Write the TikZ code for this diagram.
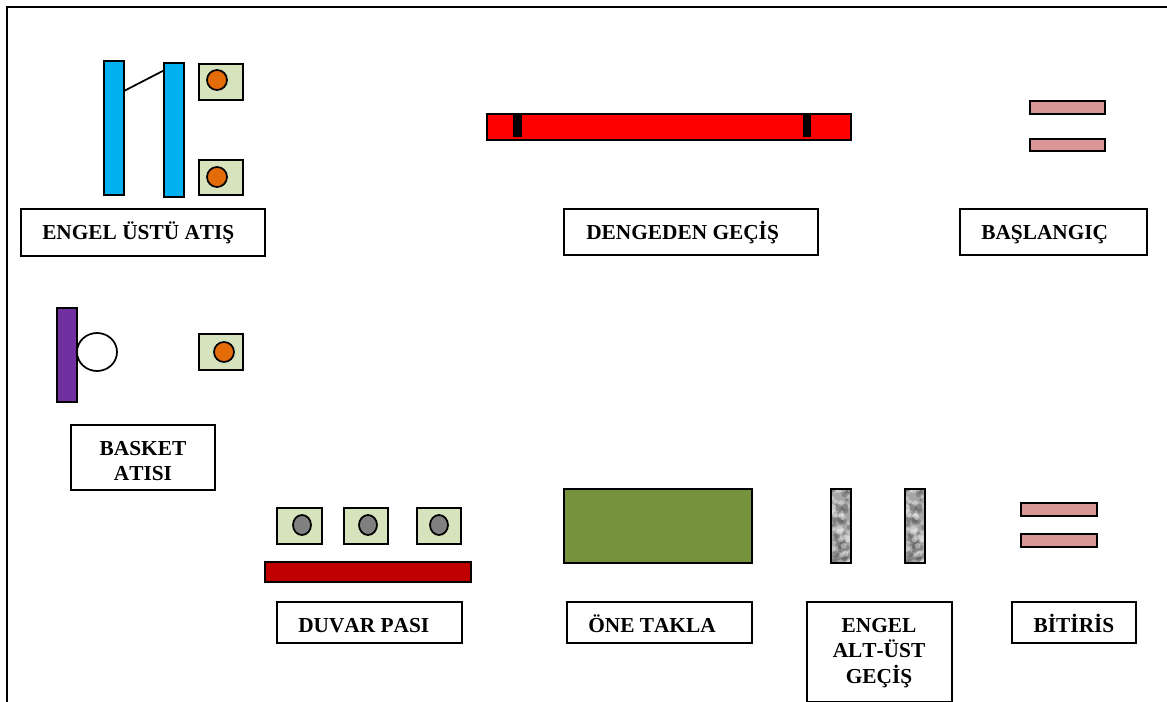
\documentclass[tikz,border=0pt]{standalone}
\usepackage{fontspec}
\setmainfont[Kerning=Off]{Liberation Serif}
\definecolor{pinkbar}{HTML}{D99694}
\definecolor{padgreen}{HTML}{D7E3BC}
\definecolor{ballorange}{HTML}{E36C09}
\definecolor{barblue}{HTML}{00B0F0}
\definecolor{barpurple}{HTML}{7030A0}
\definecolor{walldark}{HTML}{C00000}
\definecolor{matgreen}{HTML}{76923C}
\definecolor{ballgray}{HTML}{808080}
\tikzset{
  x=0.75pt,y=-0.75pt,
  shp/.style={draw=black,line width=1.3pt,inner sep=0pt,outer sep=0pt},
  lab/.style={font=\bfseries\fontsize{16pt}{19pt}\selectfont,inner sep=0pt},
}
% name, x1, y1, x2, y2, style
\newcommand{\bx}[6]{\node[shp,anchor=north west,minimum width=#4*0.75pt-#2*0.75pt,minimum height=#5*0.75pt-#3*0.75pt,#6] (#1) at (#2,#3) {};}
% name, cx, cy, rx, ry, fill
\newcommand{\el}[6]{\draw[line width=1.3pt,fill=#6] (#2,#3) ellipse [x radius=#4,y radius=#5]; \coordinate (#1) at (#2,#3);}
% gray textured bar
\newcommand{\tex}[3]{%
  \pgfmathsetseed{4711}
  \begin{scope}
    \clip (#2,#3) rectangle ++(20,74);
    \fill[black!35] (#2,#3) rectangle ++(20,74);
    \foreach \k in {1,...,90}{%
      \pgfmathsetmacro{\g}{int(rnd*100)}
      \pgfmathsetmacro{\px}{#2+rnd*20}
      \pgfmathsetmacro{\py}{#3+rnd*74}
      \pgfmathsetmacro{\pr}{1.5+rnd*2.5}
      \pgfmathsetmacro{\sh}{\g<50 ? 8 : 62}
      \fill[black!\sh,opacity=.45] (\px,\py) circle [radius=\pr];
    }
  \end{scope}
  \node[draw=black,line width=1.3pt,anchor=north west,minimum width=15pt,minimum height=55.5pt,inner sep=0pt,outer sep=0pt] (#1) at (#2,#3) {};}
\begin{document}
\begin{tikzpicture}
\useasboundingbox (0,0) rectangle (1167,702);
\draw[line width=1.3pt,black] (7,702) -- (7,7) -- (1167,7);

% Engel ustu atis
\bx{blueA}{104}{61}{124}{195}{fill=barblue}
\bx{blueB}{164}{63}{184}{197}{fill=barblue}
\draw[line width=1.3pt] ([yshift=-22.5pt]blueA.north east) -- ([yshift=-5.5pt]blueB.north west);
\bx{padA}{199}{64}{243}{100}{fill=padgreen}
\bx{padB}{199}{160}{243}{195}{fill=padgreen}
\el{ballA}{217}{80}{10}{10}{ballorange}
\el{ballB}{217}{177}{10}{10}{ballorange}
\bx{labA}{21}{209}{265}{256}{fill=white}
\node[lab,anchor=base west] (txtA) at (42,240) {ENGEL ÜSTÜ ATIŞ};

% Dengeden gecis
\bx{beam}{487}{114}{851}{140}{fill=red}
\bx{tickA}{513}{114}{522}{137}{fill=black,draw=none}
\bx{tickB}{803}{114}{811}{137}{fill=black,draw=none}
\bx{labB}{564}{209}{818}{255}{fill=white}
\node[lab,anchor=base west] (txtB) at (586,240) {DENGEDEN GEÇİŞ};

% Baslangic
\bx{startA}{1030}{101}{1105}{114}{fill=pinkbar}
\bx{startB}{1030}{139}{1105}{151}{fill=pinkbar}
\bx{labC}{960}{209}{1147}{255}{fill=white}
\node[lab,anchor=base west] (txtC) at (981,240) {BAŞLANGIÇ};

% Basket atisi
\bx{board}{57}{308}{77}{402}{fill=barpurple}
\el{hoop}{97}{352}{20}{19}{white}
\bx{padC}{199}{334}{243}{370}{fill=padgreen}
\el{ballC}{224}{352}{10}{10}{ballorange}
\bx{labD}{71}{425}{215}{490}{fill=white}
\node[lab,anchor=base] (txtDa) at (143,455) {BASKET};
\node[lab,anchor=base] (txtDb) at (143,480) {ATISI};

% Duvar pasi
\bx{padD}{277}{508}{322}{544}{fill=padgreen}
\bx{padE}{344}{508}{388}{544}{fill=padgreen}
\bx{padF}{417}{508}{461}{544}{fill=padgreen}
\el{ballD}{302}{525}{9}{10}{ballgray}
\el{ballE}{368}{525}{9}{10}{ballgray}
\el{ballF}{439}{525}{9}{10}{ballgray}
\bx{wall}{265}{562}{471}{582}{fill=walldark}
\bx{labE}{277}{602}{462}{643}{fill=white}
\node[lab,anchor=base west] (txtE) at (298,632) {DUVAR PASI};

% One takla
\bx{mat}{564}{489}{752}{563}{fill=matgreen}
\bx{labF}{567}{602}{752}{643}{fill=white}
\node[lab,anchor=base west] (txtF) at (588,632) {ÖNE TAKLA};

% Engel alt-ust
\tex{grayA}{831}{489}
\tex{grayB}{905}{489}
\bx{labG}{807}{602}{952}{702}{fill=white}
\node[lab,anchor=base] (txtGa) at (879,632) {ENGEL};
\node[lab,anchor=base] (txtGb) at (879,657) {ALT-ÜST};
\node[lab,anchor=base] (txtGc) at (879,683) {GEÇİŞ};

% Bitiris
\bx{endA}{1021}{503}{1097}{516}{fill=pinkbar}
\bx{endB}{1021}{534}{1097}{547}{fill=pinkbar}
\bx{labH}{1012}{602}{1136}{643}{fill=white}
\node[lab,anchor=base] (txtH) at (1074,632) {BİTİRİS};
\end{tikzpicture}
\end{document}
